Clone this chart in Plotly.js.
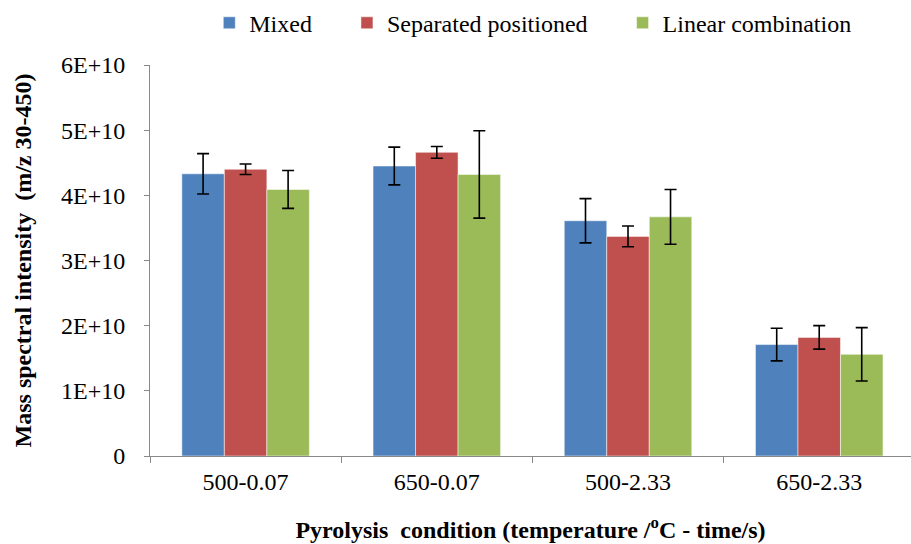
<!DOCTYPE html>
<html>
<head>
<meta charset="utf-8">
<script src="https://cdn.plot.ly/plotly-3.0.1.min.js"></script>
<style>html,body{margin:0;padding:0;background:#fff;}#chart{width:911px;height:544px;}</style>
</head>
<body>
<div id="chart"></div>
<script>
const categories = ["500-0.07", "650-0.07", "500-2.33", "650-2.33"];
const seriesNames = ["Mixed", "Separated positioned", "Linear combination"];
const mixed = [4.33e10, 4.45e10, 3.61e10, 1.71e10];
const mixedErr = [0.31e10, 0.29e10, 0.34e10, 0.25e10];
const separated = [4.40e10, 4.66e10, 3.37e10, 1.82e10];
const separatedErr = [0.08e10, 0.09e10, 0.16e10, 0.18e10];
const linear = [4.09e10, 4.32e10, 3.67e10, 1.56e10];
const linearErr = [0.29e10, 0.67e10, 0.42e10, 0.41e10];
const yTickVals = [0, 1e10, 2e10, 3e10, 4e10, 5e10, 6e10];
const yTickText = ["0", "1E+10", "2E+10", "3E+10", "4E+10", "5E+10", "6E+10"];

const PAD = "\u00a0\u00a0\u00a0\u00a0\u00a0";
function tr(name, y, err, color, pad) {
  return {
    type: "bar", name: name + pad, x: categories, y: y,
    marker: {color: color, line: {color: "rgba(255,255,255,0.5)", width: 1}},
    error_y: {type: "data", array: err, visible: true, color: "#000", thickness: 1.6, width: 6}
  };
}
const data = [
  tr(seriesNames[0], mixed, mixedErr, "#4F81BD", PAD),
  tr(seriesNames[1], separated, separatedErr, "#C0504D", PAD),
  tr(seriesNames[2], linear, linearErr, "#9BBB59", "")
];
const SERIF = "Liberation Serif";
const layout = {
  width: 911, height: 544,
  margin: {l: 150, r: 0, t: 65, b: 88},
  paper_bgcolor: "#fff", plot_bgcolor: "#fff",
  font: {family: SERIF, color: "#000", size: 24},
  barmode: "group", bargap: 0.333, bargroupgap: 0,
  showlegend: true,
  legend: {orientation: "h", x: 0.503, xanchor: "center", y: 1.107, yanchor: "middle",
           font: {family: SERIF, size: 24}, traceorder: "normal", itemwidth: 30},
  xaxis: {
    type: "category", range: [-0.5, 3.48], showline: true, linecolor: "#888", linewidth: 1,
    ticks: "outside", tickson: "boundaries", ticklen: 6, tickcolor: "#888",
    showgrid: false, tickfont: {family: SERIF, size: 24}, ticklabelstandoff: 4,
    title: {text: "<b>Pyrolysis  condition (temperature /<sup>o</sup>C - time/s)</b>", font: {family: SERIF, size: 24}, standoff: 27}
  },
  yaxis: {
    range: [0, 6e10], tickvals: yTickVals, ticktext: yTickText,
    showline: true, linecolor: "#888", linewidth: 1,
    ticks: "outside", ticklen: 5, tickcolor: "#888", showgrid: false, zeroline: false,
    tickfont: {family: SERIF, size: 24}, ticklabelstandoff: 14,
    title: {text: "<b>Mass spectral intensity  (m/z 30-450)</b>", font: {family: SERIF, size: 24}, standoff: 22}
  }
};
Plotly.newPlot("chart", data, layout, {displayModeBar: false, staticPlot: true});
</script>
</body>
</html>
